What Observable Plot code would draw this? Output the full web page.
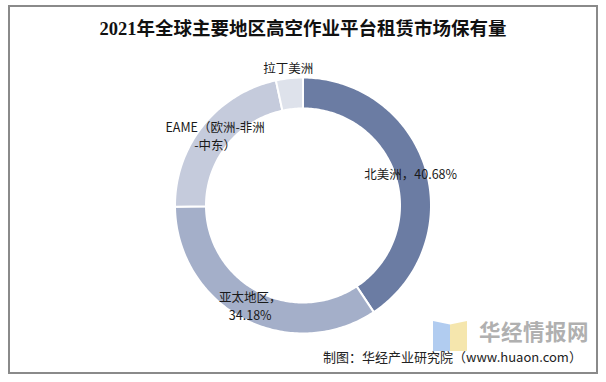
<!DOCTYPE html>
<html>
<head>
<meta charset="utf-8">
<script src="https://cdn.jsdelivr.net/npm/d3@7"></script>
<script src="https://cdn.jsdelivr.net/npm/@observablehq/plot@0.6"></script>
<style>
  html, body { margin: 0; padding: 0; background: #fff; }
  #wrap { position: relative; width: 606px; height: 382px; overflow: hidden; font-family: "Noto Sans CJK SC", sans-serif; }
  #frame { position: absolute; left: 8px; top: 5px; width: 590px; height: 369px; box-sizing: border-box; border: 2px solid #8a8a8a; }
  #title { position: absolute; left: 8px; width: 590px; top: 16px; text-align: center; font-family: "Liberation Serif", "Noto Sans CJK SC", serif; font-weight: bold; font-size: 18.5px; line-height: 26px; color: #111; }
  #chart { position: absolute; left: 0; top: 0; }
  #wm { position: absolute; left: 479px; top: 317px; font-size: 21.5px; font-weight: bold; color: #b0b0b0; line-height: 28px; letter-spacing: 0.5px; }
  #bookL { position: absolute; left: 433px; top: 321px; width: 17px; height: 30px; background: #a9c7ee; clip-path: polygon(0 0, 100% 12%, 100% 100%, 0 100%); opacity: 0.9; }
  #bookR { position: absolute; left: 450px; top: 321px; width: 17px; height: 30px; background: #f4e3a4; clip-path: polygon(0 12%, 100% 0, 100% 100%, 0 100%); opacity: 0.9; }
  #caption { position: absolute; left: 323px; top: 347px; font-size: 13px; line-height: 20px; color: #222; white-space: nowrap; }
</style>
</head>
<body>
<div id="wrap">
  <div id="frame"></div>
  <div id="title">2021年全球主要地区高空作业平台租赁市场保有量</div>
  <div id="chart"></div>
  <div id="bookL"></div>
  <div id="bookR"></div>
  <div id="wm">华经情报网</div>
  <div id="caption">制图：华经产业研究院（www.huaon.com）</div>
</div>
<script>
// ---- data ----
const regions = ["北美洲", "亚太地区", "EAME", "拉丁美洲"];
const shares = [40.68, 34.18, 21.74, 3.40];
const labelTexts = ["北美洲，40.68%", "亚太地区，\n34.18%", "EAME（欧洲-非洲\n-中东）", "拉丁美洲"];
const palette = ["#6b7ca3", "#a4afc9", "#c5cbdc", "#dee2eb"];

// ---- layout ----
const W = 606, H = 382;
const cx = 302.5, cy = 205;      // pixel centre of the ring
const rOuter = 128, rInner = 97;

const table = regions.map((r, i) => ({region: r, value: shares[i], label: labelTexts[i]}));
const arcs = d3.pie().sort(null).value(d => d.value)(table);

// polygon points for each ring slice, in chart units (1 unit = 1 px, y up)
const ringPts = [];
for (const a of arcs) {
  const n = Math.max(8, Math.ceil((a.endAngle - a.startAngle) * 60));
  for (let k = 0; k <= n; k++) {
    const t = a.startAngle + (a.endAngle - a.startAngle) * k / n;
    ringPts.push({region: a.data.region, x: rOuter * Math.sin(t), y: rOuter * Math.cos(t)});
  }
  for (let k = n; k >= 0; k--) {
    const t = a.startAngle + (a.endAngle - a.startAngle) * k / n;
    ringPts.push({region: a.data.region, x: rInner * Math.sin(t), y: rInner * Math.cos(t)});
  }
}

const labels = arcs.map(a => {
  const mid = (a.startAngle + a.endAngle) / 2;
  const small = a.data.value < 5;
  const r = small ? rOuter + 11 : (rOuter + rInner) / 2;
  return {label: a.data.label, x: r * Math.sin(mid), y: r * Math.cos(mid)};
});

const chart = Plot.plot({
  width: W,
  height: H,
  margin: 0,
  x: {domain: [-cx, W - cx], axis: null},
  y: {domain: [cy - H, cy], axis: null},
  color: {domain: regions, range: palette},
  style: {fontFamily: "'Noto Sans CJK SC', sans-serif", background: "transparent"},
  marks: [
    Plot.line(ringPts, {x: "x", y: "y", z: "region", fill: "region", stroke: "white", strokeWidth: 2, curve: "linear-closed"}),
    Plot.text(labels, {x: "x", y: "y", text: "label", fontSize: 12.5, lineHeight: 1.46, fill: "#1a1a1a", textAnchor: "middle"})
  ]
});
document.getElementById("chart").appendChild(chart);
</script>
</body>
</html>
